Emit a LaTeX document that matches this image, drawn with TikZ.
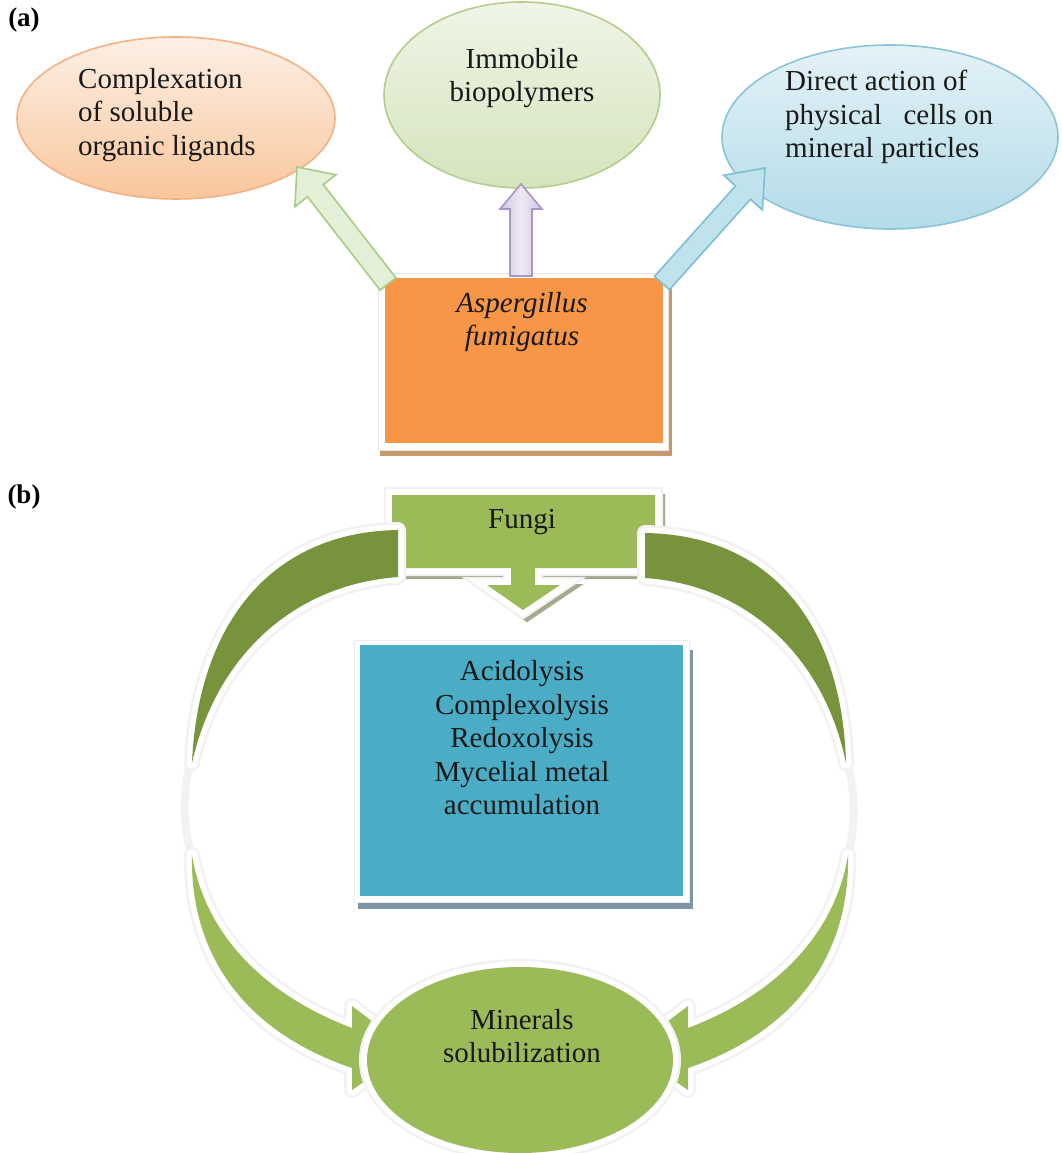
\documentclass[tikz,border=0pt]{standalone}
\usepackage{fontspec}
\setmainfont{Liberation Serif}
\usetikzlibrary{shapes.geometric,calc}

\definecolor{orTop}{HTML}{FDF0E6}
\definecolor{orBot}{HTML}{F9C69C}
\definecolor{orLine}{HTML}{F4B183}
\definecolor{grTop}{HTML}{EFF5E6}
\definecolor{grBot}{HTML}{D5E4BD}
\definecolor{grLine}{HTML}{B3CE8B}
\definecolor{blTop}{HTML}{E4F2F7}
\definecolor{blBot}{HTML}{B3DBE8}
\definecolor{blLine}{HTML}{8CC4D7}
\definecolor{aspOrange}{HTML}{F79646}
\definecolor{aspShadow}{HTML}{C9996E}
\definecolor{arrGreenFill}{HTML}{E3EFD6}
\definecolor{arrGreenLine}{HTML}{A8CC84}
\definecolor{arrPurpleSide}{HTML}{CFC4E0}
\definecolor{arrPurpleMid}{HTML}{EEEAF4}
\definecolor{arrPurpleLine}{HTML}{A897C2}
\definecolor{arrBlueFill}{HTML}{C0E2ED}
\definecolor{arrBlueLine}{HTML}{7DBFD3}
\definecolor{leafGreen}{HTML}{9BBB59}
\definecolor{oliveGreen}{HTML}{77933C}
\definecolor{fungiShadow}{HTML}{A3AA8E}
\definecolor{mechBlue}{HTML}{4BACC6}
\definecolor{mechShadow}{HTML}{7E96A8}

\newcommand{\txtsize}{\fontsize{29}{33.5}\selectfont}

% block arrow: #1 style, #2 base, #3 tip, #4 shaft half-width, #5 head half-width, #6 head length
\newcommand{\blockarrow}[6]{%
  \coordinate (#2-#3-h) at ($(#3)!#6!(#2)$);
  \path[#1] ($(#2)!#4!90:(#3)$) -- ($(#2-#3-h)!#4!90:(#3)$) -- ($(#2-#3-h)!#5!90:(#3)$)
    -- (#3) -- ($(#2-#3-h)!#5!-90:(#3)$) -- ($(#2-#3-h)!#4!-90:(#3)$)
    -- ($(#2)!#4!-90:(#3)$) -- cycle;
}

\begin{document}
\begin{tikzpicture}[x=1pt,y=-1pt,
  lbl/.style={font=\txtsize, inner sep=0pt, align=center, text=black!90},
  panel/.style={font=\bfseries\fontsize{27}{30}\selectfont, inner sep=0pt},
  topoval/.style={ellipse, inner sep=0pt, line width=1.6pt},
  rimmed/.style={preaction={draw=black!5, line width=16pt, line join=round},
                 preaction={draw=white, line width=11pt, line join=round}},
  rimmedsq/.style={preaction={draw=black!5, line width=16pt, line join=miter},
                   preaction={draw=white, line width=12pt, line join=miter}},
  plainbox/.style={rectangle, inner sep=0pt, outer sep=0pt},
  barrow/.style={line width=1.6pt, line join=miter},
]
\useasboundingbox (0,0) rectangle (1062,1153);
\fill[white] (0,0) rectangle (1062,1153);

% ---------- panel (a) ----------
\node[panel] (pa) at (24,20) {(a)};

\node[topoval, draw=orLine, top color=orTop, bottom color=orBot,
      minimum width=318pt, minimum height=162pt] (lig) at (176,118) {};
\node[lbl, align=left, anchor=west] (ligtxt) at (78,115)
  {Complexation\\of soluble\\organic ligands};

\node[topoval, draw=grLine, top color=grTop, bottom color=grBot,
      minimum width=276pt, minimum height=186pt] (bio) at (522,95) {};
\node[lbl] (biotxt) at (522,78) {Immobile\\biopolymers};

\node[topoval, draw=blLine, top color=blTop, bottom color=blBot,
      minimum width=336pt, minimum height=184pt] (phys) at (890,137) {};
\node[lbl, align=left, anchor=west] (phystxt) at (785,117)
  {Direct action of\\physical\ \ \ cells on\\mineral particles};

% organism box with frame and shadow
\fill[aspShadow] (380,280) rectangle (672,456);
\filldraw[fill=white, draw=black!10, line width=0.8pt] (378,273) rectangle (668,450);
\node[plainbox, fill=aspOrange, minimum width=278pt, minimum height=165pt] (asp) at (524,360.5) {};
\node[lbl, font=\txtsize\itshape] (asptxt) at (522,322) {Aspergillus\\fumigatus};

% block arrows from the box to the three mechanisms
\coordinate (gBase) at (388,284);
\coordinate (gTip) at (297,167);
\coordinate (pBase) at (521,276);
\coordinate (pTip) at (521,184);
\coordinate (bBase) at (662,283);
\coordinate (bTip) at (765,168);
\blockarrow{barrow, fill=arrGreenFill, draw=arrGreenLine}{gBase}{gTip}{10pt}{26pt}{30pt}
\blockarrow{barrow, left color=arrPurpleSide, right color=arrPurpleSide, middle color=arrPurpleMid,
  draw=arrPurpleLine}{pBase}{pTip}{11pt}{21pt}{25pt}
\blockarrow{barrow, fill=arrBlueFill, draw=arrBlueLine}{bBase}{bTip}{10pt}{26pt}{33pt}

% ---------- panel (b) ----------
\node[panel] (pb) at (24,497) {(b)};

% faint halo where the cycle arcs meet
\draw[black!5, line width=8pt] (192,758) .. controls (182,790) and (182,825) .. (193,860);
\draw[black!5, line width=8pt] (846,758) .. controls (856,790) and (856,825) .. (847,860);

% Fungi down-arrow callout
\def\fungishape{(392,495) -- (655,495) -- (655,568) -- (535,568) -- (535,585) -- (560,585)
  -- (523,610) -- (487,585) -- (511,585) -- (511,568) -- (392,568) -- cycle}
\path[fill=fungiShadow, draw=fungiShadow, line width=12pt, line join=miter, shift={(4,5)}] \fungishape;
\path[fill=leafGreen, rimmedsq] \fungishape;
\node[lbl] (fungitxt) at (522,522) {Fungi};

% upper (dark) arcs leaving the Fungi box
\path[fill=oliveGreen, rimmed] (398,530) .. controls (270,532) and (198,625) .. (192,763)
  .. controls (215,660) and (290,585) .. (398,577) -- cycle;
\path[fill=oliveGreen, rimmed] (645,533) .. controls (772,535) and (842,625) .. (846,763)
  .. controls (825,660) and (750,585) .. (645,578) -- cycle;

% lower (light) arcs ending in arrow heads
\path[fill=leafGreen, rimmed] (192,855) .. controls (205,935) and (265,995) .. (352,1028)
  -- (352,1006) -- (410,1050) -- (352,1090) -- (352,1068)
  .. controls (240,1030) and (190,950) .. (192,855) -- cycle;
\path[fill=leafGreen, rimmed] (848,855) .. controls (835,935) and (775,995) .. (688,1028)
  -- (688,1006) -- (630,1050) -- (688,1090) -- (688,1068)
  .. controls (800,1030) and (850,950) .. (848,855) -- cycle;

% result ellipse
\node[ellipse, fill=leafGreen, rimmed, minimum width=306pt, minimum height=186pt, inner sep=0pt]
  (minsol) at (520,1060) {};
\node[lbl] (minsoltxt) at (522,1036) {Minerals\\solubilization};

% mechanisms box with frame and shadow
\fill[mechShadow] (358,650) rectangle (693,909);
\filldraw[fill=white, draw=black!8, line width=0.8pt] (354,640) rectangle (689,902);
\node[plainbox, fill=mechBlue, minimum width=323pt, minimum height=251pt] (mech) at (521.5,770.5) {};
\node[lbl] (mechtxt) at (522,738)
  {Acidolysis\\Complexolysis\\Redoxolysis\\Mycelial metal\\accumulation};
\end{tikzpicture}
\end{document}
